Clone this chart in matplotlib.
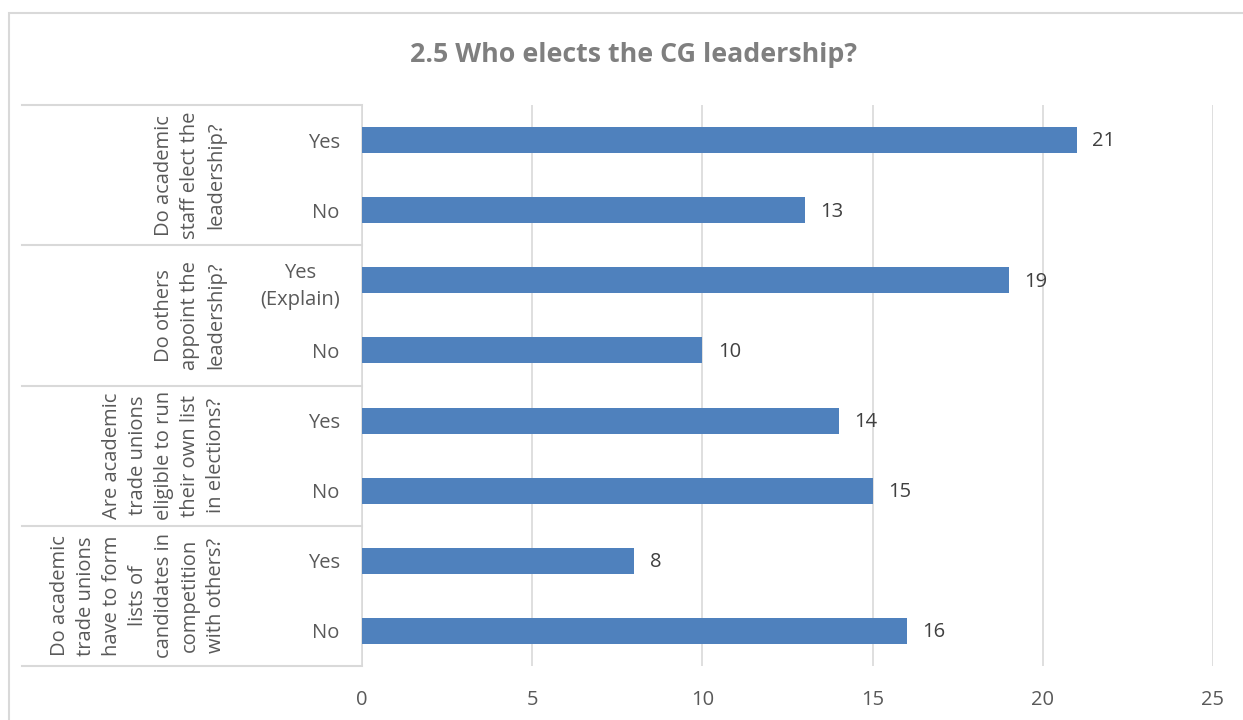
import matplotlib.pyplot as plt
from matplotlib.patches import Rectangle

# data, top to bottom as in the chart
groups = [
    "Do academic\nstaff elect the\nleadership?",
    "Do others\nappoint the\nleadership?",
    "Are academic\ntrade unions\neligible to run\ntheir own list\nin elections?",
    "Do academic\ntrade unions\nhave to form\nlists of\ncandidates in\ncompetition\nwith others?",
]
answers = ["Yes", "No", "Yes\n(Explain)", "No", "Yes", "No", "Yes", "No"]
counts = [21, 13, 19, 10, 14, 15, 8, 16]
group_size = [2, 2, 2, 2]

bar_color = "#4F81BD"
txt_color = "#595959"
grid_color = "#D9D9D9"
fs = 14.5

plt.rcParams["font.family"] = ["Open Sans", "DejaVu Sans"]

W, H = 1243, 720
fig = plt.figure(figsize=(W / 100, H / 100), dpi=100)

# outer chart frame
fig.patches.append(Rectangle((9 / W, -0.05), 1.2, (H - 13) / H + 0.05,
                             transform=fig.transFigure, fill=False,
                             edgecolor=grid_color, linewidth=1.5))

left, right, top, bottom = 362, 1213, 105, 666
ax = fig.add_axes([left / W, 1 - bottom / H, (right - left) / W, (bottom - top) / H])

ypos = list(range(len(counts)))
ax.barh(ypos, counts, height=0.37, color=bar_color, zorder=3)
for y, v in zip(ypos, counts):
    ax.text(v + 0.45, y + 0.02, str(v), va="center", ha="left", fontsize=fs, color="#404040")

ax.set_xlim(0, 25)
ax.set_ylim(len(counts) - 0.5, -0.5)
ax.set_xticks([0, 5, 10, 15, 20, 25])
ax.set_yticks(ypos)
ax.set_yticklabels(answers, multialignment="center", linespacing=1.45)
ax.tick_params(axis="y", length=0, pad=16, labelsize=fs, colors=txt_color)
ax.tick_params(axis="x", length=0, pad=17, labelsize=fs, colors=txt_color)
ax.xaxis.grid(True, color=grid_color, linewidth=1.2, zorder=0)
ax.set_axisbelow(True)
for s in ["top", "right", "bottom"]:
    ax.spines[s].set_visible(False)
ax.spines["left"].set_color(grid_color)
ax.spines["left"].set_linewidth(1.2)

# group separators and labels on the category axis
tr = ax.get_yaxis_transform()
x0 = (22 - left) / (right - left)
start = 0
edges = [-0.5]
for g, n in zip(groups, group_size):
    ax.text((226 - left) / (right - left), start + (n - 1) / 2, g, transform=tr,
            rotation=90, ha="right", va="center", multialignment="center",
            fontsize=fs, color=txt_color, linespacing=1.4)
    start += n
    edges.append(start - 0.5)
for e in edges:
    ax.plot([x0, 0], [e, e], transform=tr, color=grid_color, linewidth=1.5,
            clip_on=False, zorder=1)

fig.text(633 / W, 1 - 55 / H, "2.5 Who elects the CG leadership?", ha="center",
         va="center", fontsize=19.3, fontweight="bold", color="#7F7F7F")

fig.savefig("out.png", dpi=100)
